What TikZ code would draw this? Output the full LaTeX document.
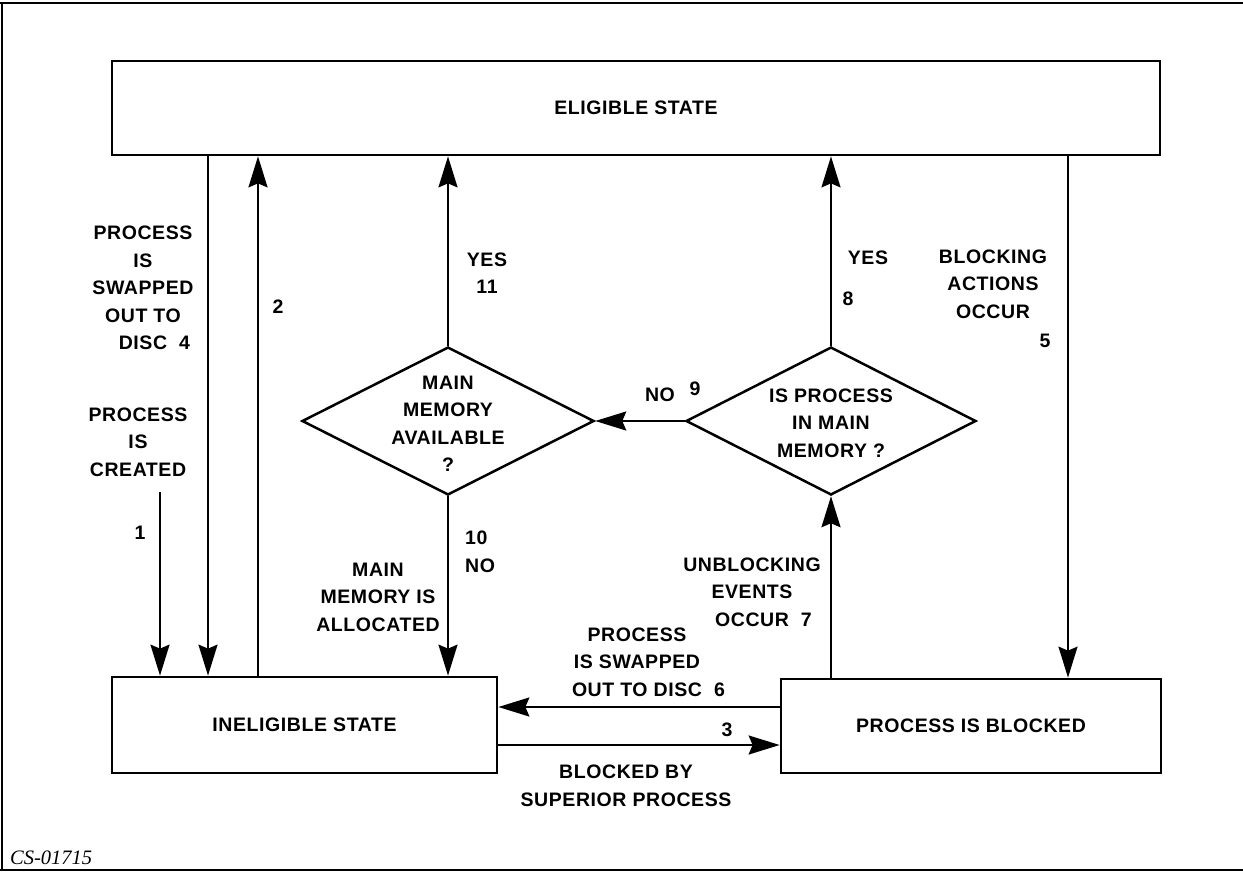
\documentclass[tikz,border=0pt]{standalone}
\usepackage{fontspec}
\usetikzlibrary{arrows.meta,shapes.geometric}
\newfontfamily\lbfam{Liberation Sans}[LetterSpace=3]
\newfontfamily\capfam{Liberation Serif}
\newcommand\labfont{\lbfam\bfseries\fontsize{19.5}{27.5}\selectfont}
\begin{document}
\begin{tikzpicture}[x=1pt,y=-1pt,
  box/.style={draw, line width=2.7pt, inner sep=0pt, font=\labfont},
  dia/.style={draw, line width=2.5pt, shape=diamond, inner sep=0pt, minimum width=292pt, minimum height=148pt},
  lbl/.style={font=\labfont, align=center, inner sep=0pt},
  arr/.style={line width=2.2pt, -{Stealth[length=31pt,width=19pt,inset=4pt]}}]
\useasboundingbox (0,0) rectangle (1243,873);
% frame
\coordinate (f1) at (0,3);
\coordinate (f2) at (1243,3);
\coordinate (f3) at (2,3);
\coordinate (f4) at (2,870);
\coordinate (f5) at (0,870);
\coordinate (f6) at (1243,870);
\draw[line width=1.5pt] (f1) -- (f2);
\draw[line width=1.5pt] (f3) -- (f4);
\draw[line width=1.5pt] (f5) -- (f6);
% boxes
\node[box, minimum width=1048pt, minimum height=94pt] (elig) at (636,108) {ELIGIBLE STATE};
\node[box, minimum width=385pt, minimum height=96pt] (inel) at (304.5,725) {INELIGIBLE STATE};
\node[box, minimum width=380pt, minimum height=94pt] (blk) at (971,726) {PROCESS IS BLOCKED};
% diamonds
\node[dia] (ld) at (448,421) {};
\node[dia, minimum width=290pt] (rd) at (831,421) {};
\node[lbl] (ldt) at (448,424) {MAIN\\MEMORY\\AVAILABLE\\?};
\node[lbl] (rdt) at (831,423) {IS PROCESS\\IN MAIN\\MEMORY ?};
% arrow positions
\coordinate (x1) at (160,492);
\coordinate (x4) at (208,0);
\coordinate (x2) at (258,0);
\coordinate (x5) at (1068,0);
\coordinate (y6) at (0,707);
\coordinate (y3) at (0,745);
% connectors
\draw[arr] (x1) -- (inel.north -| x1);
\draw[arr] (elig.south -| x4) -- (inel.north -| x4);
\draw[arr] (inel.north -| x2) -- (elig.south -| x2);
\draw[arr] (ld.north) -- (elig.south -| ld.north);
\draw[arr] (ld.south) -- (inel.north -| ld.south);
\draw[arr] (rd.north) -- (elig.south -| rd.north);
\draw[arr] (blk.north -| rd.south) -- (rd.south);
\draw[arr] (rd.west) -- (ld.east);
\draw[arr] (elig.south -| x5) -- (blk.north -| x5);
\draw[arr] (blk.west |- y6) -- (inel.east |- y6);
\draw[arr] (inel.east |- y3) -- (blk.west |- y3);
% labels
\node[lbl] (l4) at (143,288) {PROCESS\\IS\\SWAPPED\\OUT TO\\DISC\rlap{~~4}};
\node[lbl] (lc) at (138,442) {PROCESS\\IS\\CREATED};
\node[lbl] (n1) at (140,533) {1};
\node[lbl] (n2) at (278,307) {2};
\node[lbl] (y11) at (487,273) {YES\\11};
\node[lbl] (no) at (660,395) {NO};
\node[lbl] (n9) at (695,389) {9};
\node[lbl] (yes8) at (868,258) {YES};
\node[lbl] (n8) at (848,299) {8};
\node[lbl] (bl) at (993,284) {BLOCKING\\ACTIONS\\OCCUR};
\node[lbl] (n5) at (1045,341) {5};
\node[lbl] (alloc) at (378,597) {MAIN\\MEMORY IS\\ALLOCATED};
\node[lbl, align=left, anchor=west] (n10) at (465,552) {10\\NO};
\node[lbl] (unb) at (752,592) {UNBLOCKING\\EVENTS\\OCCUR\rlap{~~7}};
\node[lbl] (sw6) at (637,662) {PROCESS\\IS SWAPPED\\OUT TO DISC\rlap{~~6}};
\node[lbl] (n3) at (727,730) {3};
\node[lbl] (bsp) at (626,786) {BLOCKED BY\\SUPERIOR PROCESS};
\node[anchor=west, inner sep=0pt, font=\capfam\itshape\fontsize{20.5}{22}\selectfont] (cs) at (10,858) {CS-01715};
\end{tikzpicture}
\end{document}
